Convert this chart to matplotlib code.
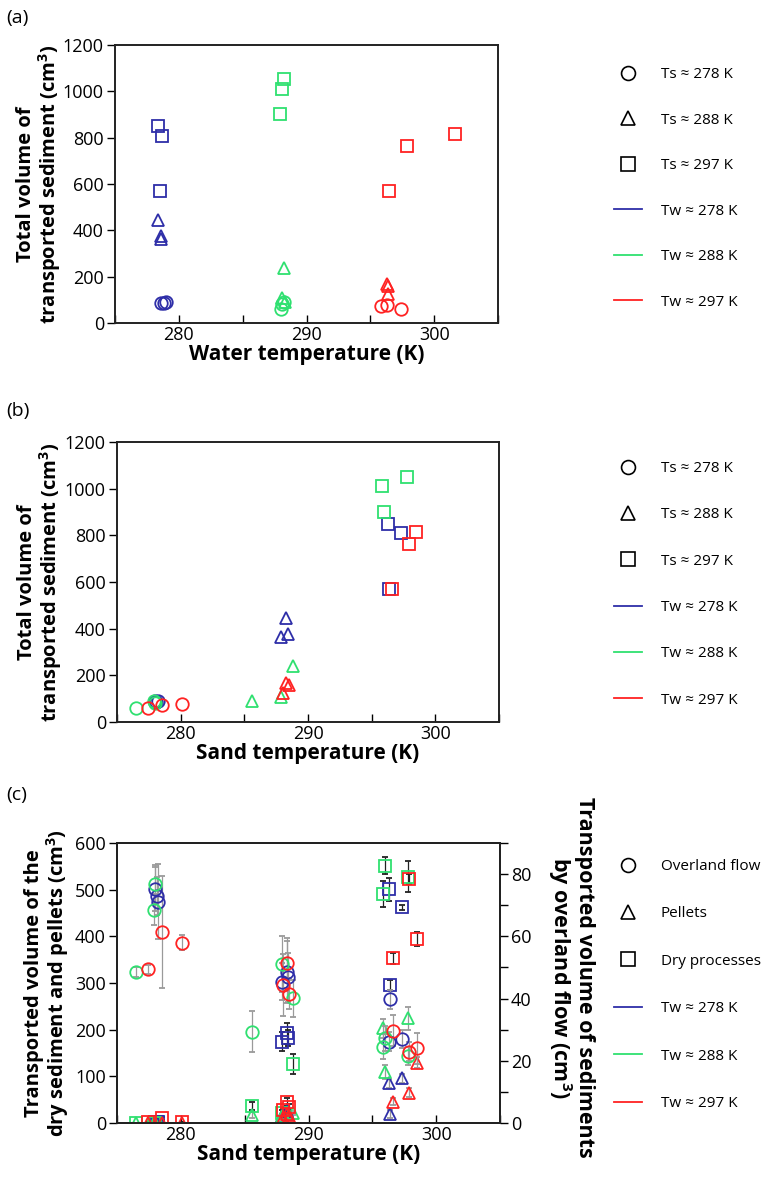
import matplotlib
matplotlib.use('Agg')
import matplotlib.pyplot as plt
from matplotlib.lines import Line2D
from matplotlib.ticker import MultipleLocator
import numpy as np

plt.rcParams['font.family'] = ['Open Sans', 'DejaVu Sans']

# ---------------- data ----------------
# Ts class of each experiment (0: Ts≈278 K, 1: Ts≈288 K, 2: Ts≈297 K)
ts_class = [0, 0, 0, 1, 1, 1, 2, 2, 2]

# Tw ≈ 278 K experiments
blue_tw = [278.6, 278.8, 279.0, 278.4, 278.6, 278.6, 278.4, 278.7, 278.5]
blue_ts = [278.0, 278.1, 278.2, 288.3, 288.4, 287.9, 296.3, 297.3, 296.4]
blue_total = [88, 85, 90, 444, 376, 363, 849, 808, 570]
blue_overland = [75.2, 73.0, 71.1, 48.6, 46.8, 45.4, 26.1, 27.0, 39.8]
blue_overland_err = [7, 6, 12, 10, 8, 6, 3, 3, 3]
blue_pellets = [1, 1, 1, 25, 20, 15, 85, 96, 19]
blue_pellets_err = [0, 0, 0, 5, 5, 5, 10, 10, 8]
blue_dry = [2, 2, 2, 192, 182, 174, 501, 462, 296]
blue_dry_err = [0, 0, 0, 22, 18, 20, 25, 5, 10]

# Tw ≈ 288 K experiments
green_tw = [288.0, 288.2, 288.1, 288.2, 288.3, 288.1, 288.2, 288.1, 287.9]
green_ts = [276.5, 277.9, 278.0, 288.8, 285.6, 287.9, 297.8, 295.8, 296.0]
green_total = [61, 90, 80, 238, 90, 106, 1052, 1010, 902]
green_overland = [48.4, 68.5, 76.8, 40.1, 29.4, 51.1, 21.5, 24.5, 27.2]
green_overland_err = [1.6, 5, 6, 6, 6.5, 9, 3, 4, 4]
green_pellets = [0, 0, 0, 21, 17, 15, 224, 203, 110]
green_pellets_err = [0, 0, 0, 4, 7, 5, 25, 20, 15]
green_dry = [0, 1, 1, 126, 36, 22, 528, 490, 551]
green_dry_err = [0, 0, 0, 22, 8, 5, 33, 28, 18]

# Tw ≈ 297 K experiments
red_tw = [297.4, 295.8, 296.3, 296.3, 296.4, 296.4, 296.5, 297.9, 301.6]
red_ts = [277.4, 278.5, 280.1, 288.3, 288.5, 288.0, 296.6, 297.9, 298.5]
red_total = [59, 73, 76, 169, 158, 125, 571, 765, 816]
red_overland = [49.4, 61.4, 58.0, 51.5, 41.5, 44.4, 29.7, 22.9, 24.0]
red_overland_err = [1.5, 18, 2.5, 8, 5, 10, 5, 3, 5]
red_pellets = [0, 0, 0, 20, 15, 10, 46, 65, 129]
red_pellets_err = [0, 0, 0, 5, 5, 5, 8, 10, 12]
red_dry = [2, 10, 2, 45, 35, 28, 353, 523, 394]
red_dry_err = [0, 3, 0, 8, 6, 5, 12, 10, 15]

ts_labels = ['Ts \u2248 278 K', 'Ts \u2248 288 K', 'Ts \u2248 297 K']
tw_labels = ['Tw \u2248 278 K', 'Tw \u2248 288 K', 'Tw \u2248 297 K']
process_labels = ['Overland flow', 'Pellets', 'Dry processes']

# ---------------- style ----------------
BLUE = '#2e2ea8'
GREEN = '#2fe070'
RED = '#ff2222'
colors = [BLUE, GREEN, RED]
shapes = ['o', '^', 's']
MS = 9
MEW = 1.3
TICK_FS = 13
LABEL_FS = 14.5
LEG_FS = 11

groups = [
    dict(tw=blue_tw, ts=blue_ts, total=blue_total, ov=blue_overland, ove=blue_overland_err,
         pe=blue_pellets, pee=blue_pellets_err, dr=blue_dry, dre=blue_dry_err),
    dict(tw=green_tw, ts=green_ts, total=green_total, ov=green_overland, ove=green_overland_err,
         pe=green_pellets, pee=green_pellets_err, dr=green_dry, dre=green_dry_err),
    dict(tw=red_tw, ts=red_ts, total=red_total, ov=red_overland, ove=red_overland_err,
         pe=red_pellets, pee=red_pellets_err, dr=red_dry, dre=red_dry_err),
]

W, H = 765, 1187
fig = plt.figure(figsize=(W / 100, H / 100), dpi=100)


def rect(left, top, right, bottom):
    return [left / W, 1 - bottom / H, (right - left) / W, (bottom - top) / H]


def style_axes(ax):
    for s in ax.spines.values():
        s.set_linewidth(1.4)
        s.set_color('#222222')
    ax.set_xlim(275, 305)
    ax.xaxis.set_major_locator(MultipleLocator(10))
    ax.xaxis.set_minor_locator(MultipleLocator(5))
    ax.tick_params(axis='x', which='both', direction='in', length=6, width=1.0,
                   labelsize=TICK_FS, pad=2, top=False)
    ax.tick_params(axis='y', which='both', direction='out', length=6, width=1.0,
                   labelsize=TICK_FS, pad=2, right=False)


def shape_legend(labels, anchor_top, spacing):
    handles = [Line2D([], [], ls='none', marker=m, mfc='none', mec='black', ms=MS + 1,
                      mew=1.2) for m in shapes]
    handles += [Line2D([], [], color=c, lw=1.3) for c in colors]
    fig.legend(handles, labels, loc='upper left', bbox_to_anchor=(614 / W, 1 - anchor_top / H),
               frameon=False, fontsize=LEG_FS, handlelength=1.8, handletextpad=1.25,
               labelspacing=spacing, borderpad=0, borderaxespad=0)


ylabel_total = 'Total volume of\ntransported sediment (cm$^\\mathregular{3}$)'

# ---------------- (a) ----------------
axa = fig.add_axes(rect(115, 45, 498, 323))
style_axes(axa)
for g, c in zip(groups, colors):
    for k in range(3):
        idx = [i for i, t in enumerate(ts_class) if t == k]
        axa.plot([g['tw'][i] for i in idx], [g['total'][i] for i in idx], ls='none',
                 marker=shapes[k], mfc='none', mec=c, ms=MS, mew=MEW)
axa.set_ylim(0, 1200)
axa.yaxis.set_major_locator(MultipleLocator(200))
axa.set_xlabel('Water temperature (K)', fontsize=LABEL_FS + 0.5, fontweight='bold', labelpad=0)
axa.set_ylabel(ylabel_total, fontsize=LABEL_FS, fontweight='bold', linespacing=1.0)
axa.yaxis.set_label_coords(-0.135, 0.5)
fig.text(6 / W, 1 - 18 / H, '(a)', fontsize=14, fontweight='medium', va='center')
shape_legend(ts_labels + tw_labels, 67, 2.0)

# ---------------- (b) ----------------
axb = fig.add_axes(rect(117, 442, 499, 722))
style_axes(axb)
for g, c in zip(groups, colors):
    for k in range(3):
        idx = [i for i, t in enumerate(ts_class) if t == k]
        axb.plot([g['ts'][i] for i in idx], [g['total'][i] for i in idx], ls='none',
                 marker=shapes[k], mfc='none', mec=c, ms=MS, mew=MEW)
axb.set_ylim(0, 1200)
axb.yaxis.set_major_locator(MultipleLocator(200))
axb.set_xlabel('Sand temperature (K)', fontsize=LABEL_FS + 0.5, fontweight='bold', labelpad=0)
axb.set_ylabel(ylabel_total, fontsize=LABEL_FS, fontweight='bold', linespacing=1.0)
axb.yaxis.set_label_coords(-0.14, 0.5)
fig.text(6 / W, 1 - 411 / H, '(b)', fontsize=14, fontweight='medium', va='center')
shape_legend(ts_labels + tw_labels, 461, 2.05)

# ---------------- (c) ----------------
axc = fig.add_axes(rect(117, 843, 500, 1123))
style_axes(axc)
axr = axc.twinx()
for s in axr.spines.values():
    s.set_linewidth(1.4)
    s.set_color('#222222')
for g, c in zip(groups, colors):
    axc.errorbar(g['ts'], g['dr'], yerr=g['dre'], fmt='s', mfc='none', mec=c, ms=MS, mew=MEW,
                 ecolor='#222222', elinewidth=0.9, capsize=2.5, capthick=0.9, zorder=3)
    axc.errorbar(g['ts'], g['pe'], yerr=g['pee'], fmt='^', mfc='none', mec=c, ms=MS, mew=MEW,
                 ecolor='#9a9a9a', elinewidth=0.9, capsize=2.5, capthick=0.9, zorder=3)
    axr.errorbar(g['ts'], g['ov'], yerr=g['ove'], fmt='o', mfc='none', mec=c, ms=MS, mew=MEW,
                 ecolor='#9a9a9a', elinewidth=0.9, capsize=2.5, capthick=0.9, zorder=3)
axc.set_ylim(0, 600)
axc.yaxis.set_major_locator(MultipleLocator(100))
axr.set_ylim(0, 90)
axr.yaxis.set_major_locator(MultipleLocator(20))
axr.yaxis.set_minor_locator(MultipleLocator(10))
axr.tick_params(axis='y', which='both', direction='out', length=6, width=1.0,
                labelsize=TICK_FS, pad=2)
axc.set_xlabel('Sand temperature (K)', fontsize=LABEL_FS + 0.5, fontweight='bold', labelpad=0)
axc.set_ylabel('Transported volume of the\ndry sediment and pellets (cm$^\\mathregular{3}$)',
               fontsize=LABEL_FS, fontweight='bold', linespacing=1.0)
axc.yaxis.set_label_coords(-0.12, 0.5)
axr.set_ylabel('Transported volume of sediments\nby overland flow (cm$^\\mathregular{3}$)',
               fontsize=LABEL_FS + 1, fontweight='bold', linespacing=1.0, rotation=270,
               va='bottom')
axr.yaxis.set_label_coords(1.12, 0.52)
fig.text(6 / W, 1 - 795 / H, '(c)', fontsize=14, fontweight='medium', va='center')
shape_legend(process_labels + tw_labels, 859, 2.12)

fig.savefig('out.png', dpi=100)
